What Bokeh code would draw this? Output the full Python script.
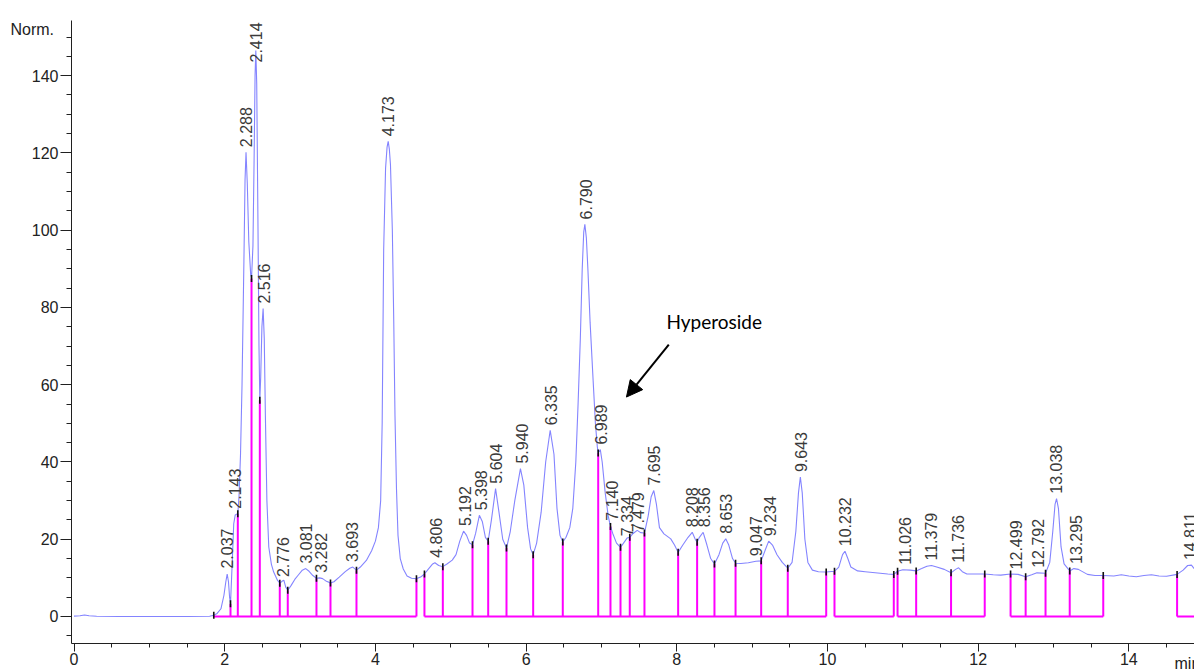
import math

from bokeh.plotting import figure
from bokeh.models import Range1d, SingleIntervalTicker, Label, Arrow, NormalHead, ColumnDataSource
from bokeh.core.properties import value
from bokeh.embed import file_html
from bokeh.resources import INLINE

# ---------------------------------------------------------------------------
# Detector trace: retention time (min) and signal (Norm.)
# ---------------------------------------------------------------------------
trace_t = [
    0.00, 0.08, 0.14, 0.20, 0.30, 0.60, 1.00, 1.50, 1.80, 1.855,
    1.90, 1.95, 1.99, 2.015, 2.033, 2.05, 2.065, 2.077,
    2.10, 2.12, 2.14, 2.16, 2.174, 2.19, 2.21, 2.23, 2.255, 2.27, 2.283,
    2.30, 2.32, 2.345, 2.356, 2.375, 2.39, 2.403, 2.413, 2.425, 2.44, 2.455, 2.466,
    2.478, 2.494, 2.51, 2.525, 2.54, 2.56, 2.585, 2.62, 2.65, 2.70, 2.731,
    2.76, 2.785, 2.81, 2.837, 2.88, 2.93, 2.98, 3.03, 3.075, 3.12, 3.17, 3.218,
    3.26, 3.30, 3.35, 3.404, 3.45, 3.52, 3.60, 3.66, 3.70, 3.749,
    3.80, 3.88, 3.95, 4.00, 4.04, 4.07, 4.09, 4.11, 4.135, 4.155, 4.17,
    4.185, 4.20, 4.225, 4.244, 4.26, 4.28, 4.30, 4.33, 4.37, 4.42, 4.48, 4.545,
    4.60, 4.651, 4.70, 4.76, 4.79, 4.84, 4.895, 4.95, 5.02, 5.07, 5.12, 5.17,
    5.21, 5.25, 5.289, 5.33, 5.38, 5.42, 5.46, 5.497, 5.54, 5.595, 5.64, 5.69,
    5.74, 5.79, 5.85, 5.925, 5.97, 6.02, 6.06, 6.094, 6.14, 6.20, 6.26, 6.32,
    6.37, 6.41, 6.45, 6.487, 6.53, 6.58, 6.62, 6.66, 6.69, 6.72, 6.745, 6.765,
    6.78, 6.80, 6.82, 6.85, 6.89, 6.92, 6.945, 6.957, 6.985, 7.01, 7.05, 7.09,
    7.12, 7.15, 7.20, 7.253, 7.30, 7.34, 7.376, 7.42, 7.475, 7.52, 7.571, 7.62,
    7.66, 7.695, 7.73, 7.77, 7.83, 7.92, 7.97, 8.018, 8.08, 8.15, 8.205, 8.245,
    8.27, 8.30, 8.35, 8.40, 8.45, 8.50, 8.56, 8.61, 8.65, 8.69, 8.74, 8.78,
    8.85, 8.95, 9.05, 9.12, 9.17, 9.22, 9.27, 9.33, 9.40, 9.473, 9.53, 9.58,
    9.615, 9.64, 9.665, 9.70, 9.74, 9.80, 9.88, 9.983, 10.093, 10.15, 10.20,
    10.232, 10.27, 10.31, 10.40, 10.50, 10.60, 10.70, 10.80, 10.88, 10.93,
    11.00, 11.10, 11.177, 11.25, 11.32, 11.38, 11.45, 11.55, 11.64, 11.70,
    11.74, 11.79, 11.85, 11.95, 12.087, 12.20, 12.30, 12.43, 12.53, 12.63,
    12.71, 12.78, 12.894, 12.95, 12.99, 13.02, 13.04, 13.065, 13.10, 13.14,
    13.215, 13.27, 13.33, 13.45, 13.55, 13.66, 13.80, 13.90, 14.00, 14.10,
    14.20, 14.30, 14.40, 14.50, 14.64, 14.72, 14.78, 14.83, 14.87,
]
trace_signal = [
    0.1, 0.2, 0.4, 0.2, 0.05, 0.0, 0.0, 0.0, 0.05, 0.3,
    0.8, 2.0, 5.5, 9.0, 11.0, 9.0, 5.0, 3.3,
    14.0, 24.0, 26.3, 26.5, 26.6, 31.0, 42.0, 60.0, 92.0, 113.0, 120.2,
    112.0, 97.0, 88.5, 87.5, 96.0, 118.0, 140.0, 146.5, 138.0, 105.0, 70.0, 56.0,
    62.0, 75.0, 79.7, 72.0, 52.0, 30.0, 18.0, 13.5, 11.5, 9.4, 8.6,
    9.1, 9.4, 7.6, 6.8, 8.0, 9.6, 10.8, 12.0, 12.4, 11.7, 10.6, 9.9,
    10.0, 9.8, 9.1, 8.7, 9.0, 10.2, 11.6, 12.5, 12.8, 12.0,
    12.8, 14.5, 17.0, 19.5, 23.0, 30.0, 50.0, 95.0, 116.0, 121.5, 123.0,
    121.0, 117.0, 100.0, 76.0, 52.0, 33.0, 21.0, 15.0, 12.3, 10.5, 9.9, 9.8,
    10.2, 11.0, 12.2, 13.6, 13.9, 13.2, 12.9, 13.6, 14.6, 16.0, 19.5, 22.1,
    21.0, 19.0, 18.6, 21.5, 26.2, 24.5, 20.5, 19.5, 25.0, 33.1, 27.0, 20.0,
    17.7, 22.0, 30.0, 38.3, 34.0, 23.0, 17.5, 16.0, 19.0, 27.0, 40.0, 48.2,
    42.0, 28.0, 21.0, 19.3, 20.5, 23.0, 28.0, 40.0, 55.0, 72.0, 90.0, 99.5,
    101.5, 98.0, 90.0, 76.0, 61.0, 50.0, 44.0, 42.3, 43.2, 40.0, 32.0, 26.0,
    23.3, 21.5, 19.0, 17.9, 19.2, 20.3, 20.5, 21.5, 22.3, 21.7, 21.6, 26.0,
    31.0, 32.6, 29.0, 23.0, 21.4, 20.1, 18.5, 16.6, 18.5, 20.5, 21.8, 20.0,
    19.2, 20.5, 21.8, 18.5, 15.0, 13.6, 16.0, 19.0, 20.1, 18.5, 15.0, 13.8,
    13.7, 13.9, 14.3, 14.4, 17.0, 19.5, 18.5, 16.0, 14.0, 12.5, 14.0, 22.0,
    32.0, 36.1, 32.0, 20.0, 14.0, 12.0, 11.6, 11.5, 11.7, 12.8, 16.0,
    16.9, 15.0, 12.8, 11.8, 11.6, 11.4, 11.2, 11.0, 10.9, 11.7,
    12.1, 12.0, 11.8, 12.4, 13.0, 13.2, 12.8, 12.2, 11.3, 12.2,
    12.6, 11.6, 11.0, 11.0, 11.0, 10.8, 10.7, 11.0, 10.9, 10.3,
    10.8, 11.3, 11.2, 14.0, 22.0, 29.0, 30.5, 28.0, 18.0, 13.6,
    11.8, 12.4, 12.2, 10.9, 10.6, 10.6, 10.5, 10.8, 10.5, 10.3,
    10.6, 10.8, 10.5, 10.4, 10.9, 12.0, 13.2, 13.3, 12.3,
]

# Integrated peaks: retention time (min) and apex height (Norm.)
peak_rt = [
    2.037, 2.143, 2.288, 2.414, 2.516, 2.776, 3.081, 3.282, 3.693, 4.173,
    4.806, 5.192, 5.398, 5.604, 5.940, 6.335, 6.790, 6.989, 7.140, 7.334,
    7.479, 7.695, 8.208, 8.356, 8.653, 9.047, 9.234, 9.643, 10.232, 11.026,
    11.379, 11.736, 12.499, 12.792, 13.038, 13.295, 14.811,
]
peak_height = [
    11.1, 26.6, 120.2, 146.5, 79.7, 8.9, 12.4, 10.0, 12.8, 123.0,
    13.9, 22.1, 26.2, 33.1, 38.3, 48.2, 101.5, 43.2, 23.5, 19.5,
    20.5, 32.6, 21.8, 21.8, 20.1, 14.3, 19.5, 36.1, 16.9, 12.1,
    13.2, 12.6, 10.9, 11.3, 30.5, 12.3, 13.3,
]

# Integration events: drop-line position (min) and signal there (Norm.)
event_t = [
    1.855, 2.077, 2.174, 2.356, 2.466, 2.731, 2.837, 3.218, 3.404, 3.749,
    4.545, 4.651, 4.895, 5.289, 5.497, 5.740, 6.094, 6.487, 6.957, 7.120,
    7.253, 7.376, 7.571, 8.018, 8.270, 8.500, 8.780, 9.120, 9.473, 9.983,
    10.093, 10.880, 10.930, 11.177, 11.640, 12.087, 12.430, 12.630, 12.894,
    13.215, 13.660, 14.640,
]
event_signal = [
    0.3, 3.3, 26.6, 87.5, 56.0, 8.6, 6.8, 9.9, 8.7, 12.0,
    9.8, 11.0, 12.9, 18.6, 19.5, 17.7, 16.0, 19.3, 42.3, 23.3,
    17.9, 20.5, 21.6, 16.6, 19.2, 13.6, 13.8, 14.4, 12.5, 11.5,
    11.7, 10.9, 11.7, 11.8, 11.3, 11.0, 11.0, 10.3, 11.2,
    11.8, 10.6, 10.9,
]

# Baseline segments of the integration (min)
baseline_start = [1.855, 4.651, 10.093, 10.930, 12.430, 14.640]
baseline_end = [4.545, 9.983, 10.880, 12.087, 13.660, 15.200]

compound_name = "Hyperoside"
y_unit = "Norm."
x_unit = "min"

# ---------------------------------------------------------------------------
X_START, X_END = -0.0332, 14.871
Y_START, Y_END = -6.99, 154.28
PX_PER_Y = 623 / (Y_END - Y_START)

LABEL_FONT = "Liberation Sans"
TEXT_GREY = "#3a3a3a"

p = figure(
    width=1194, height=670,
    x_range=Range1d(X_START, X_END), y_range=Range1d(Y_START, Y_END),
    output_backend="svg", toolbar_location=None,
    min_border_left=71, min_border_right=0, min_border_top=20, min_border_bottom=27,
    background_fill_color="white", border_fill_color="white",
)
p.outline_line_color = None
p.grid.visible = False

# axes
p.xaxis.ticker = SingleIntervalTicker(interval=2, num_minor_ticks=4)
p.yaxis.ticker = SingleIntervalTicker(interval=20, num_minor_ticks=4)
for ax in (p.xaxis[0], p.yaxis[0]):
    ax.axis_line_color = "#202020"
    ax.axis_line_width = 1
    ax.major_tick_line_color = "#202020"
    ax.minor_tick_line_color = "#202020"
    ax.major_tick_in = 0
    ax.minor_tick_in = 0
    ax.major_label_text_font = LABEL_FONT
    ax.major_label_text_font_size = "16px"
    ax.major_label_text_color = "#222222"
p.yaxis.major_tick_out = 11
p.yaxis.minor_tick_out = 5
p.yaxis.major_label_standoff = 2
p.xaxis.major_tick_out = 8
p.xaxis.minor_tick_out = 4
p.xaxis.major_label_standoff = 1

# integration baselines and drop lines
p.segment(x0=baseline_start, y0=0, x1=baseline_end, y1=0,
          line_color="#ff00ff", line_width=2)
p.segment(x0=event_t, y0=[0] * len(event_t), x1=event_t, y1=event_signal,
          line_color="#ff00ff", line_width=2)

# detector signal
p.line(trace_t, trace_signal, line_color="#8484ff", line_width=1.1)

# baseline event markers
tick_half = 3.5 / PX_PER_Y
p.segment(x0=event_t, y0=[v - tick_half for v in event_signal],
          x1=event_t, y1=[v + tick_half for v in event_signal],
          line_color="#101010", line_width=1.6)

# retention-time labels above the peaks, kept inside the plot area
label_gap = 5 / PX_PER_Y
label_len = 42 / PX_PER_Y
label_y = [min(h + label_gap, Y_END - label_len) for h in peak_height]
src = ColumnDataSource(dict(x=peak_rt, y=label_y, txt=[f"{t:.3f}" for t in peak_rt]))
p.text(x="x", y="y", text="txt", source=src, angle=math.pi / 2,
       text_align="left", text_baseline="middle",
       text_font=value(LABEL_FONT), text_font_size="16px", text_color=TEXT_GREY)

# axis unit captions, placed in side panels so the frame does not clip them
p.add_layout(Label(x=10, y=29, x_units="canvas", y_units="canvas", text=y_unit,
                   text_font=LABEL_FONT, text_font_size="16px", text_color="#222222",
                   text_baseline="alphabetic"), "above")
p.add_layout(Label(x=1174, y=663, x_units="canvas", y_units="canvas", text=x_unit,
                   text_font=LABEL_FONT, text_font_size="16px", text_color="#222222",
                   text_baseline="alphabetic"), "left")

# compound annotation
p.add_layout(Label(x=7.863, y=76.4, text=compound_name, text_font="Lato",
                   text_font_size="19px", text_color="black",
                   text_baseline="alphabetic"))
p.add_layout(Arrow(end=NormalHead(size=16, fill_color="black", line_color="black"),
                   x_start=7.894, y_start=70.4, x_end=7.332, y_end=56.8,
                   line_color="black", line_width=2))

open("out.html", "w").write(file_html(p, INLINE))
